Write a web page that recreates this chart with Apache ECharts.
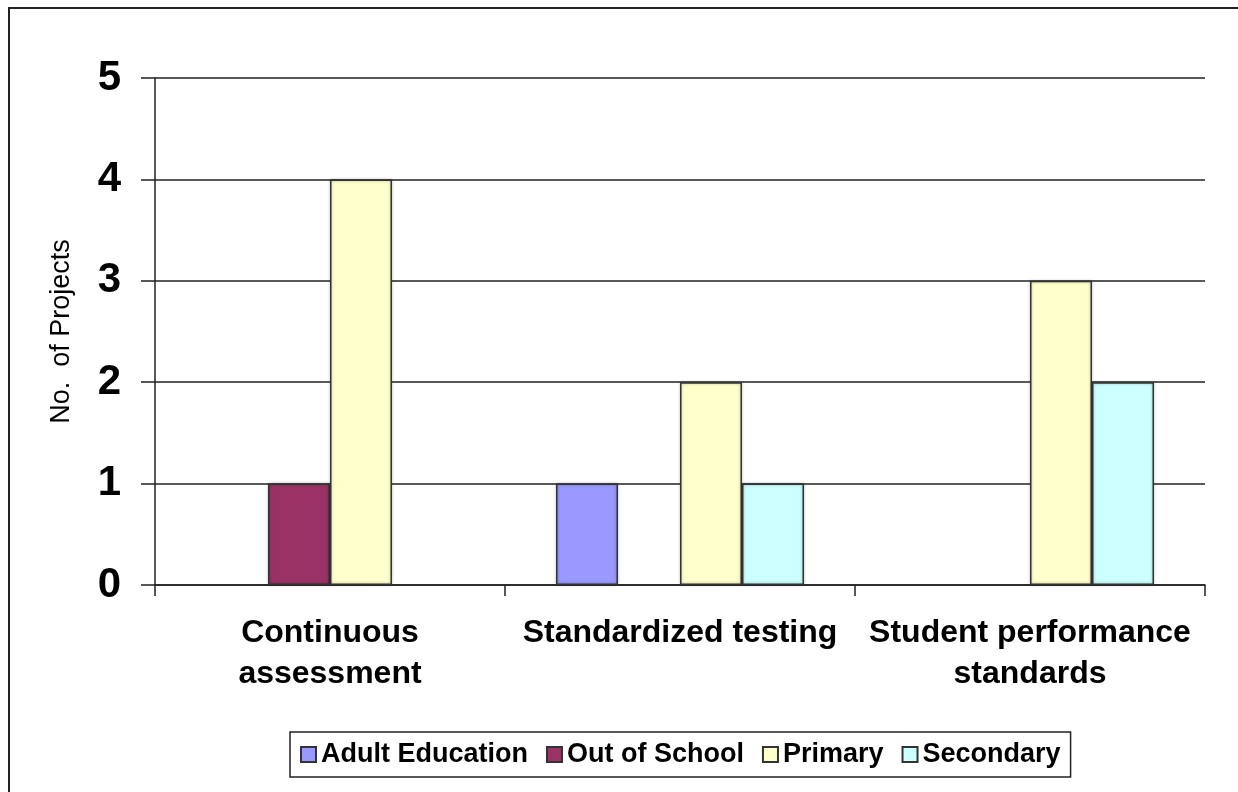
<!DOCTYPE html>
<html>
<head>
<meta charset="utf-8">
<script src="https://cdn.jsdelivr.net/npm/echarts@6/dist/echarts.min.js"></script>
<style>
  html, body { margin: 0; padding: 0; background: #fff; }
  #chart { width: 1238px; height: 792px; }
</style>
</head>
<body>
<div id="chart"></div>
<script>
// Assessment approaches, counted by education level
const categories = ['Continuous\nassessment', 'Standardized testing', 'Student performance\nstandards'];
const seriesNames = ['Adult Education', 'Out of School', 'Primary', 'Secondary'];
const adultEducation = [null, 1, null];
const outOfSchool = [1, null, null];
const primary = [4, 2, 3];
const secondary = [null, 1, 2];
const yTicks = [0, 1, 2, 3, 4, 5];

const colors = ['#9999FF', '#993366', '#FFFFCC', '#CCFFFF'];
const values = [adultEducation, outOfSchool, primary, secondary];
const font = "'Liberation Sans', Arial, sans-serif";

const chart = echarts.init(document.getElementById('chart'), null, { renderer: 'canvas' });

chart.setOption({
  backgroundColor: '#fff',
  animation: false,
  graphic: [{
    type: 'rect',
    shape: { x: 9, y: 8, width: 1260, height: 820 },
    style: { fill: 'none', stroke: '#222', lineWidth: 2 },
    silent: true
  }],
  grid: { left: 155, right: 33, top: 78, bottom: 207, containLabel: false },
  legend: {
    left: 290,
    top: 732,
    orient: 'horizontal',
    itemWidth: 15,
    itemHeight: 15,
    itemGap: 18,
    padding: [9, 10, 9, 10],
    borderColor: '#222',
    borderWidth: 1.5,
    icon: 'rect',
    data: seriesNames,
    textStyle: { fontFamily: font, fontWeight: 'bold', fontSize: 27, color: '#000' }
  },
  xAxis: {
    type: 'category',
    data: categories,
    axisLine: { lineStyle: { color: '#222', width: 1.5 } },
    axisTick: { show: true, interval: 0, length: 11, lineStyle: { color: '#222', width: 1.5 } },
    axisLabel: {
      interval: 0,
      hideOverlap: false,
      margin: 28,
      fontFamily: font, fontWeight: 'bold', fontSize: 32, color: '#000',
      lineHeight: 41, align: 'center'
    }
  },
  yAxis: {
    type: 'value',
    min: yTicks[0],
    max: yTicks[yTicks.length - 1],
    interval: 1,
    name: 'No.  of Projects',
    nameLocation: 'middle',
    nameRotate: 90,
    nameGap: 80,
    nameTextStyle: { fontFamily: font, fontSize: 27, color: '#000' },
    axisLine: { show: true, lineStyle: { color: '#222', width: 1.5 } },
    axisTick: { show: true, length: 14, lineStyle: { color: '#222', width: 1.5 } },
    splitLine: { show: true, lineStyle: { color: '#222', width: 1.5 } },
    axisLabel: {
      margin: 34,
      fontFamily: font, fontWeight: 'bold', fontSize: 42, color: '#000'
    }
  },
  series: seriesNames.map((name, i) => ({
    name: name,
    type: 'bar',
    data: values[i],
    barWidth: 62,
    barGap: '0%',
    itemStyle: {
      color: colors[i],
      borderColor: '#333',
      borderWidth: 1.5,
      shadowColor: 'rgba(0,0,0,0.3)',
      shadowBlur: 3
    }
  }))
});
</script>
</body>
</html>
